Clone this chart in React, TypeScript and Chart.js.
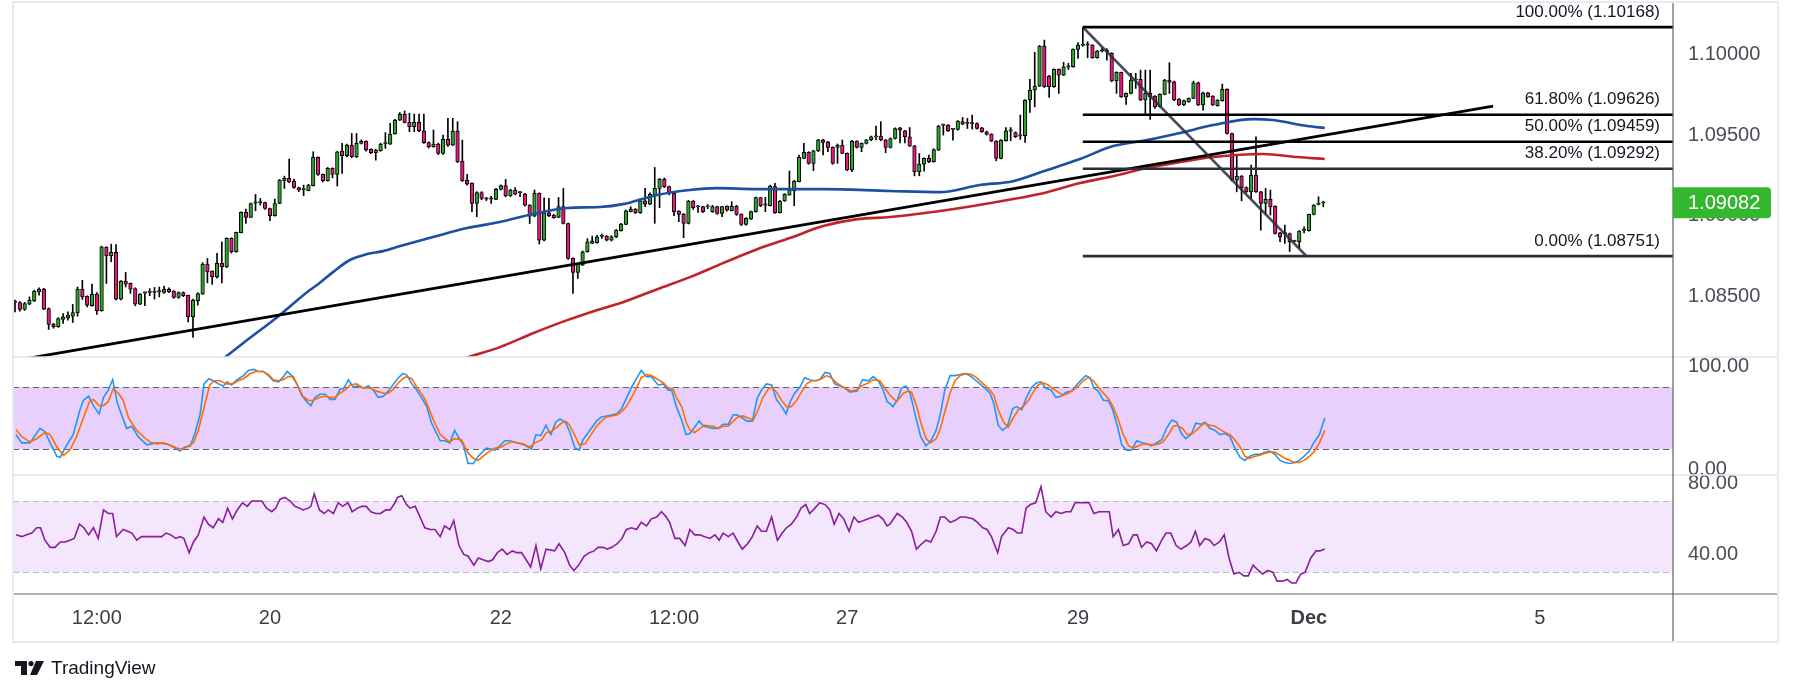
import React, { useEffect, useRef } from 'react';
import { Chart, registerables } from 'chart.js';

Chart.register(...registerables);

// ---------- DATA ----------
// Candle prices are given in pips above BASE (1.0800); one bar = one hour.
const BASE = 1.08;
const opens = [
  46.6, 46.4, 42.1, 45.4, 47.4, 53.0, 54.7, 42.7, 33.0, 31.4, 35.9, 36.9, 37.9, 40.0, 54.5, 50.3, 44.4, 51.6, 41.3, 80.5,
  75.3, 77.4, 48.5, 59.6, 58.2, 55.1, 45.4, 52.2, 52.6, 52.6, 53.0, 52.6, 54.5, 53.4, 49.5, 52.6, 50.8, 37.5, 47.5, 51.6,
  70.2, 65.8, 62.3, 70.6, 68.5, 86.1, 77.8, 89.6, 102.2, 99.1, 107.9, 108.1, 108.3, 104.6, 100.1, 107.7, 121.8, 123.2, 121.5, 117.6,
  116.2, 115.6, 118.7, 136.2, 125.7, 121.8, 129.4, 125.7, 140.1, 137.2, 143.8, 136.6, 144.9, 146.3, 141.2, 139.1, 140.3, 144.7, 144.4, 150.7,
  159.3, 162.8, 157.9, 155.2, 157.9, 152.7, 145.3, 142.8, 144.5, 138.7, 147.4, 143.8, 152.5, 133.9, 122.2, 120.1, 107.7, 114.5, 110.6, 110.4,
  110.2, 116.4, 118.7, 112.3, 116.0, 114.3, 113.5, 106.7, 99.9, 113.9, 85.0, 101.9, 100.5, 99.1, 105.7, 95.3, 73.7, 65.0, 69.5, 77.8,
  83.0, 83.4, 87.3, 87.5, 85.0, 87.1, 90.8, 94.7, 102.6, 104.2, 102.0, 109.4, 107.3, 112.9, 117.0, 122.8, 118.1, 113.9, 103.0, 101.1,
  95.4, 109.2, 105.5, 105.7, 105.5, 102.6, 105.7, 101.5, 106.1, 103.2, 106.1, 101.1, 94.7, 98.0, 102.6, 111.3, 106.7, 106.3, 118.1, 102.0,
  109.2, 112.9, 115.6, 121.2, 135.6, 139.3, 132.5, 140.2, 147.0, 145.9, 142.4, 142.4, 143.9, 138.7, 128.4, 146.3, 142.4, 144.9, 147.0, 148.8,
  149.4, 147.0, 142.4, 147.9, 154.5, 152.7, 149.0, 143.4, 127.3, 132.0, 135.6, 133.5, 140.7, 156.0, 156.2, 153.5, 153.5, 158.3, 157.2, 157.2,
  157.2, 154.5, 152.1, 150.6, 146.3, 135.6, 146.5, 152.5, 151.6, 149.4, 149.6, 171.7, 177.9, 180.3, 205.1, 186.5, 179.9, 190.7, 187.1, 192.1,
  192.3, 203.0, 205.5, 205.7, 205.7, 197.9, 202.0, 202.0, 200.6, 183.6, 188.8, 173.7, 175.8, 184.1, 184.5, 171.7, 175.8, 174.1, 167.5, 175.2,
  184.1, 183.0, 172.3, 168.6, 170.6, 172.7, 182.4, 168.6, 176.2, 174.1, 168.2, 171.3, 178.3, 151.0, 122.1, 124.6, 117.6, 114.9, 125.2, 114.9,
  107.7, 110.2, 106.0, 89.5, 88.9, 89.1, 84.2, 84.0, 91.0, 90.8, 100.9, 107.1, 108.0,
];
const highs = [
  47.9, 47.0, 46.5, 49.9, 54.0, 55.5, 55.2, 43.0, 33.5, 37.0, 39.5, 40.6, 45.2, 56.0, 60.2, 50.5, 57.8, 52.6, 81.3, 81.0,
  82.5, 82.3, 60.0, 65.0, 58.5, 55.5, 52.0, 53.0, 55.0, 55.7, 56.0, 56.5, 55.5, 53.8, 53.0, 53.0, 51.0, 48.5, 52.5, 71.0,
  73.7, 66.0, 76.8, 84.0, 86.5, 86.5, 90.0, 102.5, 104.2, 108.0, 113.3, 110.8, 108.5, 104.8, 110.4, 122.6, 124.6, 135.2, 122.8, 117.8,
  119.0, 119.5, 139.7, 136.5, 126.0, 130.0, 129.8, 140.0, 144.9, 144.5, 151.0, 151.0, 147.0, 146.5, 141.5, 141.3, 145.0, 151.5, 157.3, 159.7,
  163.9, 164.9, 163.5, 163.0, 163.0, 163.0, 145.8, 153.1, 145.0, 150.0, 160.4, 160.4, 158.3, 146.9, 125.7, 120.5, 115.0, 115.0, 111.5, 112.2,
  117.0, 119.2, 122.6, 116.5, 117.5, 115.0, 114.0, 107.0, 116.0, 114.3, 111.2, 110.8, 101.0, 111.4, 117.0, 95.5, 74.0, 70.5, 78.3, 86.0,
  87.5, 88.0, 88.7, 87.8, 87.8, 91.6, 95.4, 103.6, 105.7, 104.5, 110.8, 117.0, 114.3, 130.0, 123.2, 123.5, 118.5, 114.0, 103.2, 101.5,
  109.6, 109.5, 106.5, 106.0, 107.0, 106.5, 106.0, 106.0, 106.3, 108.8, 106.5, 101.2, 99.0, 103.0, 111.7, 111.5, 111.5, 119.0, 120.1, 109.6,
  113.7, 127.8, 122.0, 137.7, 144.9, 139.7, 140.6, 147.4, 147.4, 146.2, 142.8, 144.5, 147.0, 139.0, 146.7, 146.5, 145.2, 147.4, 149.4, 155.6,
  158.3, 147.3, 148.3, 154.5, 154.8, 153.0, 154.7, 143.6, 138.6, 136.0, 137.6, 141.5, 156.0, 156.8, 156.5, 154.2, 159.0, 160.9, 160.3, 162.4,
  157.6, 154.8, 152.5, 150.8, 146.6, 147.3, 154.7, 154.7, 152.0, 162.4, 172.0, 184.5, 201.2, 205.5, 208.8, 187.0, 191.0, 191.0, 195.0, 194.4,
  203.4, 207.2, 216.8, 207.8, 206.0, 202.4, 204.1, 203.5, 201.0, 189.2, 189.0, 176.2, 188.2, 188.2, 190.2, 190.2, 190.2, 174.5, 175.6, 184.5,
  194.8, 183.4, 172.6, 171.7, 173.0, 183.4, 182.8, 176.6, 176.5, 174.4, 172.0, 181.6, 178.7, 151.3, 138.2, 125.0, 118.0, 131.4, 149.0, 115.2,
  117.0, 116.0, 106.3, 89.8, 94.3, 89.4, 85.0, 90.9, 93.2, 101.2, 107.0, 111.8, 109.1,
];
const lows = [
  40.6, 41.0, 41.5, 45.0, 47.0, 51.0, 42.0, 29.7, 30.5, 31.0, 33.5, 35.5, 34.0, 38.0, 48.3, 43.7, 44.2, 39.0, 41.0, 58.2,
  71.6, 48.0, 48.0, 56.0, 52.0, 44.4, 45.0, 44.4, 50.6, 48.5, 49.9, 52.0, 52.5, 49.0, 49.0, 50.0, 34.4, 24.8, 44.8, 51.5,
  58.6, 57.6, 61.5, 58.6, 68.0, 77.0, 77.5, 89.5, 95.3, 99.0, 103.2, 106.7, 104.0, 97.0, 99.8, 107.5, 117.0, 120.5, 117.0, 115.0,
  112.5, 115.5, 118.5, 125.0, 121.0, 121.5, 123.5, 118.5, 126.3, 136.5, 136.0, 136.0, 144.5, 140.0, 138.5, 134.5, 140.0, 141.8, 144.2, 150.5,
  159.0, 157.5, 152.1, 152.1, 152.0, 144.8, 142.0, 142.5, 138.0, 138.0, 143.0, 143.5, 133.0, 121.3, 119.0, 102.6, 99.5, 110.0, 109.5, 107.7,
  110.0, 116.0, 111.8, 112.0, 113.0, 111.9, 106.0, 95.3, 99.5, 82.6, 84.5, 99.5, 98.5, 99.0, 95.0, 73.0, 52.0, 61.3, 69.3, 77.5,
  82.8, 83.2, 86.1, 84.5, 84.5, 86.5, 90.5, 94.5, 102.5, 101.5, 101.5, 105.7, 107.0, 95.4, 105.1, 117.5, 113.0, 100.1, 96.4, 86.5,
  95.0, 104.0, 102.2, 102.0, 104.5, 102.2, 101.0, 99.5, 103.0, 103.0, 100.3, 94.0, 94.2, 97.8, 102.3, 105.8, 102.6, 106.1, 101.5, 101.8,
  109.0, 112.8, 106.3, 121.0, 135.4, 132.0, 128.0, 139.8, 137.7, 139.7, 132.0, 132.5, 138.5, 128.0, 127.3, 142.0, 139.7, 144.5, 146.5, 147.0,
  146.5, 139.1, 142.0, 147.5, 145.2, 145.2, 143.0, 124.8, 124.8, 127.7, 133.0, 133.2, 140.5, 150.0, 152.3, 146.9, 153.0, 156.4, 154.1, 153.7,
  153.7, 151.7, 150.0, 146.0, 134.1, 135.3, 146.2, 146.5, 148.5, 147.3, 145.4, 164.0, 167.5, 180.0, 179.5, 173.3, 179.5, 175.8, 186.8, 190.6,
  192.0, 197.5, 205.0, 197.9, 197.5, 197.5, 201.5, 196.4, 183.0, 175.8, 173.3, 169.0, 175.5, 178.9, 171.3, 163.4, 159.7, 166.5, 167.2, 174.9,
  175.8, 171.3, 168.2, 168.2, 170.3, 172.5, 168.2, 165.5, 173.3, 168.2, 167.9, 171.0, 150.6, 121.7, 114.9, 109.3, 114.5, 110.8, 114.5, 91.2,
  101.5, 100.5, 88.7, 84.0, 82.9, 78.0, 83.8, 80.4, 89.5, 90.5, 100.6, 106.8, 105.6,
];
const closes = [
  46.4, 42.1, 45.8, 47.9, 53.4, 54.7, 42.3, 32.8, 31.4, 36.5, 37.5, 38.6, 40.2, 54.5, 49.9, 44.8, 51.4, 41.3, 80.9, 75.3,
  77.4, 48.5, 59.6, 57.8, 54.7, 45.4, 51.6, 52.6, 52.6, 53.0, 53.0, 54.5, 53.0, 49.5, 52.6, 50.6, 37.5, 47.9, 52.0, 70.2,
  65.4, 62.3, 70.6, 68.5, 86.1, 77.8, 89.8, 102.2, 99.1, 107.7, 108.1, 108.3, 104.6, 100.1, 107.7, 122.2, 123.2, 121.1, 117.6, 116.0,
  116.4, 119.1, 136.2, 125.7, 121.8, 129.4, 125.7, 139.7, 137.2, 143.8, 136.6, 144.9, 146.3, 140.8, 139.1, 140.8, 144.4, 144.9, 150.7, 159.3,
  162.8, 157.9, 155.2, 157.9, 152.7, 145.3, 142.8, 144.5, 138.7, 147.4, 143.8, 152.5, 133.5, 121.8, 119.7, 107.7, 114.5, 110.8, 110.4, 110.4,
  116.4, 118.7, 112.3, 116.0, 113.5, 114.3, 106.7, 99.9, 113.9, 85.0, 101.9, 100.1, 98.9, 105.7, 95.3, 73.7, 65.0, 70.2, 77.8, 84.0,
  84.6, 87.1, 87.5, 85.0, 87.1, 91.2, 95.0, 103.2, 104.2, 102.0, 109.4, 107.3, 113.3, 117.0, 122.8, 118.1, 113.9, 102.6, 100.9, 95.4,
  109.2, 105.1, 105.7, 102.6, 105.7, 105.7, 101.5, 105.7, 103.6, 106.1, 100.9, 94.7, 98.5, 102.6, 111.3, 106.3, 107.1, 118.5, 102.0, 109.2,
  113.3, 116.0, 121.6, 136.2, 139.3, 132.5, 140.2, 147.0, 145.5, 142.4, 132.5, 143.9, 138.7, 128.4, 146.3, 142.4, 144.9, 147.0, 149.0, 149.0,
  147.0, 142.4, 147.9, 154.1, 153.1, 149.0, 143.2, 127.3, 132.0, 135.6, 133.5, 141.1, 155.6, 156.2, 152.7, 153.7, 158.7, 156.8, 157.2, 157.0,
  154.1, 152.1, 150.4, 146.3, 135.6, 146.9, 152.7, 152.7, 149.0, 149.6, 171.7, 177.9, 180.3, 205.1, 179.9, 179.9, 190.7, 187.1, 192.3, 192.3,
  203.0, 205.7, 205.7, 205.7, 197.9, 202.0, 202.0, 201.6, 183.6, 188.8, 173.7, 175.8, 184.1, 184.1, 171.7, 175.8, 173.7, 167.5, 175.2, 184.1,
  182.6, 171.7, 168.6, 171.3, 172.7, 182.4, 168.6, 176.2, 173.7, 168.6, 171.7, 178.3, 151.0, 122.1, 124.6, 117.4, 114.9, 125.2, 114.9, 107.7,
  110.2, 105.6, 89.1, 87.0, 89.1, 84.0, 84.4, 90.6, 91.2, 100.9, 106.7, 107.1, 108.2,
];

// Moving averages, [bar index, pips above BASE]
const emaBlue: [number, number][] = [
  [39.5, 2.7], [47.4, 21.2], [54.5, 37.3], [61.3, 54.1], [62.8, 57.2], [66.1, 65.2], [69.6, 72.7], [73.2, 76.4], [76.5, 78.2],
  [80.1, 81.3], [86.9, 86.9], [94.0, 92.5], [100.8, 96.2], [107.7, 101.2], [114.8, 104.9], [121.6, 105.5], [126.4, 107.3],
  [133.5, 112.9], [140.3, 116.0], [145.9, 117.2], [154.3, 116.6], [168.0, 116.6], [181.9, 115.4], [192.3, 114.7], [200.6, 119.1],
  [207.5, 121.5], [214.6, 128.4], [221.4, 135.2], [228.3, 143.2], [235.3, 146.9], [242.2, 151.3], [249.1, 156.2], [257.4, 159.9],
  [261.5, 159.3], [268.6, 155.6], [272.3, 154.4],
];
const emaRed: [number, number][] = [
  [91.5, 9.6], [94.2, 12.6], [100.8, 18.8], [107.7, 27.4], [114.8, 35.5], [121.6, 42.3], [126.4, 46.6], [133.5, 54.6],
  [140.3, 62.1], [147.2, 70.8], [154.3, 79.4], [161.1, 86.3], [168.0, 93.7], [175.1, 98.0], [181.9, 99.3], [193.8, 103.6],
  [207.5, 110.4], [214.6, 114.7], [221.4, 120.3], [228.3, 124.6], [235.3, 129.6], [242.2, 133.3], [249.1, 136.4],
  [259.5, 138.3], [266.5, 136.4], [272.3, 135.2],
];
const trendline: [number, number][] = [[0, 10.5], [307.3, 168.0]];

// Fibonacci retracement drawing
const fibStartBar = 222;
const fibPercents = ['100.00%', '61.80%', '50.00%', '38.20%', '0.00%'];
const fibPrices = [1.10168, 1.09626, 1.09459, 1.09292, 1.08751];
const fibColors = ['#000000', '#000000', '#000000', '#2a2e39', '#2a2e39'];
const fibDiagonal: [number, number][] = [[222, 1.10168], [268.5, 1.08751]];

// Stochastic (%K, %D) and RSI, [bar index, value]
const stochK: [number, number][] = [
  [0.2,34],[1.4,26],[3.1,26],[5.2,40],[6.2,37],[7.3,26],[8.7,13],[9.4,12],[10.4,21],[12.1,34],[13.5,58],[14.2,67],[15.3,71],[16.3,62],[17.5,54],[18.4,70],[19.4,77],[20.3,87],[21.3,64],[23.2,40],[24.3,42],[25.6,32],[27.4,24],[28.4,25],[29.5,26],[31.5,25],[32.9,22],[34.3,18],[35.3,22],[36.4,23],[37.4,35],[38.5,54],[39.3,83],[40.3,88],[41.2,86],[42.3,83],[43.3,81],[44.1,85],[45.0,82],[46.2,87],[47.5,91],[48.5,96],[49.6,97],[50.6,95],[51.6,95],[52.7,91],[53.7,86],[54.8,85],[55.8,90],[56.6,95],[57.5,91],[58.6,83],[59.6,72],[60.6,66],[61.5,62],[62.4,70],[63.4,73],[64.5,73],[65.5,68],[66.5,68],[67.6,78],[68.3,78],[69.3,87],[70.3,80],[71.4,81],[72.4,79],[73.5,81],[74.5,77],[75.5,70],[76.6,71],[77.6,76],[78.7,83],[79.7,89],[80.6,93],[81.4,92],[82.5,83],[83.5,77],[84.6,69],[85.6,61],[86.6,45],[88.4,28],[89.4,28],
  [90.4,26],[91.4,38],[92.5,29],[93.2,24],[94.2,6],[95.3,6],[96.3,13],[98.0,21],[99.8,19],[100.8,23],[101.8,28],[102.9,28],[104.3,26],[105.3,25],[106.3,23],[107.4,20],[108.3,34],[109.3,33],[110.4,43],[111.4,34],[112.4,46],[113.3,49],[114.4,46],[115.3,37],[116.4,21],[117.3,19],[118.1,29],[119.5,38],[120.9,47],[121.9,51],[123.0,52],[124.0,53],[125.1,54],[126.1,59],[127.1,69],[128.2,80],[129.2,88],[130.2,96],[131.3,90],[132.3,90],[133.7,82],[134.8,83],[135.8,77],[136.5,77],[137.5,61],[138.6,48],[139.5,34],[140.3,35],[141.3,41],[142.2,47],[143.2,42],[144.1,41],[145.1,40],[146.2,40],[147.2,44],[148.3,44],[149.3,53],[150.1,53],[151.2,50],[152.2,47],[153.3,47],[154.3,69],[155.2,77],[156.2,83],[157.3,82],[158.3,68],[159.4,61],[160.3,54],[161.2,66],[162.1,74],[163.2,80],[164.2,89],[165.2,87],[166.3,86],[167.3,87],[168.4,94],[169.4,93],[170.4,83],[171.5,81],[172.5,79],[173.6,75],[175.1,76],[176.2,87],[177.4,86],[178.4,90],[179.5,86],[180.5,77],[181.3,66],
  [181.9,64],[182.5,61],[183.4,67],[184.3,79],[185.2,81],[186.1,74],[187.1,54],[188.3,32],[189.4,23],[190.4,28],[191.5,38],[192.4,54],[193.3,77],[194.4,91],[195.4,91],[196.5,92],[197.5,93],[198.5,91],[199.6,87],[200.6,83],[201.6,79],[202.7,74],[203.5,64],[204.4,43],[205.3,38],[206.3,42],[207.4,59],[208.2,61],[209.3,58],[210.3,70],[211.4,80],[212.4,84],[213.3,85],[214.3,79],[215.4,77],[216.4,70],[217.5,71],[218.5,75],[219.7,76],[220.7,82],[221.7,87],[222.6,91],[223.5,89],[224.3,79],[225.2,76],[226.3,67],[227.3,67],[228.2,58],[229.2,42],[230.1,24],[231.1,19],[232.1,19],[233.2,28],[234.2,26],[235.3,25],[236.3,23],[237.3,26],[238.4,29],[239.4,40],[240.5,48],[241.5,46],[242.5,35],[243.4,30],[244.5,34],[245.5,45],[246.6,44],[247.4,46],[248.4,40],[249.5,38],[250.5,34],[251.6,35],[252.6,32],[253.6,21],[254.7,12],[255.7,9],[256.7,13],[257.8,15],[258.8,15],[259.9,17],[260.9,18],[261.9,15],[263.0,9],[264.0,7],[265.1,6],[266.1,7],[267.0,9],[268.0,13],[269.1,18],[270.0,26],[271.2,34],[272.3,50],
];
const stochD: [number, number][] = [
  [0.2,39],[1.4,32],[3.1,27],[4.5,30],[6.2,36],[7.3,34],[8.7,22],[10.1,14],[11.4,19],[12.8,32],[14.2,50],[15.5,66],[16.3,68],[17.5,62],[18.4,62],[19.4,66],[20.4,78],[21.5,74],[22.5,67],[23.6,50],[25.3,38],[27.4,29],[28.4,26],[29.5,25],[30.8,26],[32.2,24],[33.6,21],[34.7,20],[35.7,22],[37.1,26],[38.1,38],[39.5,64],[40.5,82],[41.4,86],[42.6,86],[44.0,83],[45.3,83],[46.4,86],[47.5,88],[48.9,93],[50.2,95],[51.6,95],[52.7,92],[53.7,87],[54.8,86],[55.8,87],[56.8,90],[57.9,90],[58.9,80],[59.9,71],[61.0,67],[62.0,67],[63.4,70],[64.5,71],[65.5,70],[66.5,70],[67.6,74],[68.6,77],[69.7,82],[71.0,83],[72.4,79],[73.8,79],[75.2,76],[76.6,74],[77.6,74],[78.7,78],[79.7,84],[80.6,88],[81.4,90],[82.5,88],[83.5,80],[84.9,71],[85.9,61],[87.0,48],[88.4,34],[89.4,30],
  [90.4,27],[91.4,30],[92.8,29],[94.2,16],[95.3,11],[96.3,9],[97.3,13],[98.4,17],[99.8,21],[101.1,22],[102.2,25],[103.2,27],[104.3,26],[105.6,25],[107.0,22],[108.1,26],[109.5,29],[110.5,36],[111.5,37],[112.6,41],[113.6,45],[114.5,47],[115.3,43],[116.4,33],[117.3,24],[118.5,25],[119.5,32],[120.9,42],[121.9,47],[123.0,51],[124.0,52],[125.1,53],[126.1,56],[127.1,61],[128.2,70],[129.2,79],[130.2,89],[131.3,92],[132.3,91],[133.4,88],[134.8,84],[135.8,79],[136.8,78],[137.5,70],[138.6,61],[139.6,45],[140.4,38],[141.3,36],[142.4,40],[143.4,43],[145.1,42],[146.2,40],[147.2,42],[148.3,42],[149.3,47],[150.3,51],[151.4,52],[152.4,50],[153.5,48],[154.5,58],[155.5,70],[156.6,78],[157.3,80],[158.3,75],[159.4,67],[160.4,61],[161.4,61],[162.5,67],[163.5,75],[164.6,83],[165.6,86],[166.6,86],[167.7,88],[168.7,91],[169.7,89],[170.8,84],[171.8,81],[172.9,78],[173.9,76],[174.9,77],[176.0,81],[177.4,84],[178.4,87],[179.8,86],[180.8,79],
  [181.9,72],[183.3,66],[184.7,74],[185.7,76],[186.4,75],[187.4,62],[188.3,46],[189.4,30],[190.4,26],[191.5,30],[192.4,40],[193.3,56],[194.4,74],[195.4,86],[196.5,91],[197.8,93],[198.9,92],[199.9,89],[201.3,83],[202.7,77],[203.5,72],[204.4,58],[205.5,46],[206.5,41],[207.5,50],[208.6,58],[209.6,61],[210.7,67],[211.7,75],[212.7,82],[213.8,84],[214.8,82],[215.9,78],[216.9,75],[217.9,72],[219.0,74],[220.0,77],[221.1,81],[222.1,86],[223.1,89],[224.2,86],[225.2,80],[226.3,74],[227.3,69],[228.3,61],[229.4,48],[230.4,34],[231.5,23],[232.5,21],[233.5,23],[234.6,25],[236.6,24],[237.7,25],[238.7,27],[239.8,34],[240.8,42],[241.6,43],[242.7,40],[243.7,34],[244.8,35],[245.8,39],[246.7,43],[247.4,45],[248.4,43],[249.5,42],[250.5,39],[251.6,36],[252.6,34],[253.6,29],[254.7,22],[255.7,13],[256.7,11],[257.8,13],[258.8,14],[259.9,16],[260.9,17],[261.9,17],[263.0,14],[264.0,11],[265.1,9],[266.1,7],[267.0,7],[268.0,9],[269.1,13],[270.0,17],[271.2,26],[272.3,38],
];
const rsi: [number, number][] = [
  [0.2,51],[1.4,50],[2.4,51],[3.5,52],[4.5,55],[5.3,55],[6.2,48],[7.3,44],[8.3,44],[9.4,47],[10.4,47],[11.4,48],[12.3,49],[13.4,57],[14.3,55],[15.3,51],[16.3,55],[17.3,49],[18.4,65],[19.4,63],[20.3,63],[21.1,50],[22.5,54],[23.4,53],[24.3,52],[25.3,48],[26.3,50],[27.4,50],[29.5,50],[30.5,50],[31.4,52],[32.4,51],[33.4,49],[34.3,50],[35.1,49],[36.2,41],[37.1,47],[38.1,51],[39.3,61],[40.2,57],[41.2,55],[42.3,60],[43.2,58],[44.2,66],[45.2,60],[46.2,65],[47.3,69],[48.3,67],[49.2,70],[51.3,70],[52.3,66],[53.4,64],[54.2,66],[55.1,71],[56.1,72],[57.2,70],[58.2,67],[59.1,66],[59.9,65],[61.0,66],[61.5,67],[62.2,74],[63.3,65],[64.3,63],[65.1,65],[66.2,63],[67.2,69],[68.1,67],[69.2,69],[70.1,64],[71.2,66],[72.1,67],[73.0,67],[74.0,64],[75.0,63],[76.0,63],[77.1,65],[78.0,65],[79.0,69],[79.5,72],[80.4,73],[81.4,68],[82.1,66],[83.2,67],[84.2,61],[85.2,55],[86.3,54],[87.3,54],[88.4,50],[89.3,56],
  [90.4,54],[91.2,59],[92.3,45],[93.3,40],[94.2,39],[95.4,34],[96.3,38],[97.3,37],[98.4,36],[99.3,37],[100.3,41],[101.3,43],[102.3,40],[103.4,42],[104.3,41],[105.3,41],[107.2,33],[108.3,45],[109.3,32],[110.4,43],[112.2,42],[113.1,46],[114.3,41],[115.3,34],[116.2,31],[117.2,34],[118.3,39],[119.4,41],[120.4,42],[121.2,44],[122.3,44],[123.1,43],[124.1,44],[125.2,46],[126.2,49],[127.1,54],[128.2,55],[129.2,54],[130.2,58],[131.3,56],[132.3,60],[133.4,61],[134.4,64],[135.4,61],[136.1,58],[137.2,49],[138.2,49],[139.3,45],[140.3,54],[141.3,51],[142.4,51],[143.4,50],[144.5,49],[145.5,51],[146.4,48],[147.2,52],[148.3,50],[149.3,52],[150.3,47],[151.2,43],[152.3,46],[153.3,50],[154.3,56],[155.2,53],[156.2,53],[157.3,61],[158.5,48],[159.5,52],[160.4,55],[161.4,57],[162.5,61],[163.4,66],[164.4,68],[165.2,63],[166.3,66],[167.3,69],[168.4,68],[169.4,65],[170.3,57],[171.3,63],[172.3,60],[173.4,53],[174.4,61],[175.4,58],[177.4,60],[179.5,62],[180.4,60],[181.3,56],
  [181.9,57],[183.4,63],[184.5,61],[185.4,58],[186.4,53],[187.4,43],[188.5,46],[189.4,48],[190.4,47],[191.5,53],[192.4,61],[193.3,61],[194.4,58],[195.4,59],[196.5,61],[197.5,61],[199.1,60],[200.1,58],[201.2,55],[202.1,54],[203.0,50],[204.3,41],[205.1,50],[206.5,55],[207.5,54],[208.4,52],[209.3,52],[210.2,66],[211.1,68],[212.2,69],[213.3,78],[214.3,64],[215.4,61],[216.4,64],[217.5,63],[218.5,64],[219.5,64],[220.4,69],[221.4,69],[223.3,69],[224.3,63],[225.4,64],[226.5,64],[227.5,64],[228.3,50],[229.4,54],[230.4,45],[231.5,46],[232.5,51],[233.3,51],[234.2,44],[235.3,47],[236.3,46],[237.3,42],[238.4,48],[239.3,52],[240.3,52],[241.4,45],[242.4,43],[243.6,45],[244.5,47],[245.4,53],[246.3,45],[247.4,49],[248.4,48],[249.3,45],[250.4,47],[251.4,51],[252.4,38],[253.4,29],[254.5,30],[255.5,28],[256.4,28],[257.4,34],[258.5,31],[259.4,29],[260.4,31],[261.5,30],[262.4,25],[263.5,25],[264.5,26],[265.4,24],[266.3,24],[267.3,29],[268.2,30],[269.4,38],[270.5,42],[271.3,42],[272.3,43],
];

// Axes
const timeTickBars = [17, 53, 101, 137, 173, 221, 269, 317];
const timeTickLabels = ['12:00', '20', '22', '12:00', '27', '29', 'Dec', '5'];
const priceTicks = [1.085, 1.09, 1.095, 1.1];
const stochTicks = [0, 100];
const rsiTicks = [40, 80];
const lastPrice = 1.09082;

// ---------- STYLE ----------
const FONT = "'Liberation Sans', Arial, sans-serif";
const AXIS_TEXT = '#4a4c55';
const UP = '#2ba52b';
const DOWN = '#e8177c';
const BLUE = '#1c4fa3';
const RED = '#c0242b';

const toPrice = (p: number) => BASE + p / 10000;

const noPad = (s: any) => {
  s.paddingTop = 0;
  s.paddingBottom = 0;
  s.paddingLeft = 0;
  s.paddingRight = 0;
};

export default function App() {
  const ref = useRef<HTMLCanvasElement | null>(null);

  useEffect(() => {
    if (!ref.current) return;
    const bars = closes.map((_, i) => i);
    const xMin = -0.42;
    const xMax = 344.7;

    const panes = {
      id: 'panes',
      beforeDatasetsDraw(chart: any) {
        const { ctx, chartArea, scales } = chart;
        const l = chartArea.left;
        const r = chartArea.right;
        const yS = scales.yS;
        const yR = scales.yR;
        ctx.save();
        const s80 = yS.getPixelForValue(80);
        const s20 = yS.getPixelForValue(20);
        ctx.fillStyle = '#e9d0fc';
        ctx.fillRect(l, s80, r - l, s20 - s80);
        const r70 = yR.getPixelForValue(70);
        const r30 = yR.getPixelForValue(30);
        ctx.fillStyle = '#f4e6fd';
        ctx.fillRect(l, r70, r - l, r30 - r70);
        ctx.lineWidth = 1;
        ctx.setLineDash([6, 4]);
        ctx.strokeStyle = '#5d606b';
        [s80, s20].forEach((y) => {
          ctx.beginPath();
          ctx.moveTo(l, Math.round(y) + 0.5);
          ctx.lineTo(r, Math.round(y) + 0.5);
          ctx.stroke();
        });
        ctx.strokeStyle = '#b8bac2';
        [r70, r30].forEach((y) => {
          ctx.beginPath();
          ctx.moveTo(l, Math.round(y) + 0.5);
          ctx.lineTo(r, Math.round(y) + 0.5);
          ctx.stroke();
        });
        ctx.restore();
      },
      afterDatasetsDraw(chart: any) {
        const { ctx, chartArea, scales } = chart;
        const yP = scales.yP;
        ctx.save();
        ctx.font = `17px ${FONT}`;
        ctx.fillStyle = '#131722';
        ctx.textAlign = 'right';
        ctx.textBaseline = 'middle';
        fibPrices.forEach((p, i) => {
          const y = yP.getPixelForValue(p);
          ctx.fillText(`${fibPercents[i]} (${p.toFixed(5)})`, chartArea.right - 13, y - 15);
        });
        ctx.restore();
      },
      afterDraw(chart: any) {
        const { ctx, chartArea, scales } = chart;
        const yP = scales.yP;
        const yS = scales.yS;
        const outerRight = chartArea.right + 105;
        const outerBottom = chartArea.bottom + 48;
        ctx.save();
        // pane separators
        ctx.strokeStyle = '#e0e3eb';
        ctx.lineWidth = 1.5;
        [yP.bottom, yS.bottom].forEach((y: number) => {
          ctx.beginPath();
          ctx.moveTo(chartArea.left, y);
          ctx.lineTo(outerRight, y);
          ctx.stroke();
        });
        // axis borders
        ctx.strokeStyle = '#5f6368';
        ctx.lineWidth = 1.2;
        ctx.beginPath();
        ctx.moveTo(chartArea.left, chartArea.bottom);
        ctx.lineTo(outerRight, chartArea.bottom);
        ctx.moveTo(chartArea.right, chartArea.top);
        ctx.lineTo(chartArea.right, outerBottom);
        ctx.stroke();
        // outer frame
        ctx.strokeStyle = '#e9eaef';
        ctx.lineWidth = 2;
        ctx.strokeRect(chartArea.left, chartArea.top, outerRight - chartArea.left, outerBottom - chartArea.top);
        // last price label
        const yl = yP.getPixelForValue(lastPrice);
        const bx = chartArea.right;
        const bw = 98;
        const bh = 31;
        ctx.fillStyle = '#33b72f';
        ctx.beginPath();
        (ctx as any).roundRect(bx, yl - bh / 2, bw, bh, [0, 4, 4, 0]);
        ctx.fill();
        ctx.fillStyle = '#ffffff';
        ctx.font = `20px ${FONT}`;
        ctx.textAlign = 'left';
        ctx.textBaseline = 'middle';
        ctx.fillText(lastPrice.toFixed(5), bx + 15, yl + 1);
        ctx.restore();
      },
    };

    const lineDs = (data: [number, number][], color: string, width: number, yAxisID: string, order: number, conv = true, extra: any = {}) => ({
      type: 'line' as const,
      data: data.map(([x, y]) => ({ x, y: conv ? toPrice(y) : y })),
      borderColor: color,
      borderWidth: width,
      pointRadius: 0,
      tension: 0,
      yAxisID,
      order,
      ...extra,
    });

    const fibDs = fibPrices.map((p, i) =>
      lineDs([[fibStartBar, p], [xMax, p]], fibColors[i], 2.6, 'yP', 0, false)
    );

    const yAxis = (weight: number, min: number, max: number, ticks: number[], digits: number) => ({
      type: 'linear',
      position: 'right',
      stack: 'panes',
      stackWeight: weight,
      min,
      max,
      grid: { display: false, drawTicks: false },
      border: { display: false },
      afterBuildTicks: (s: any) => {
        s.ticks = ticks.map((v) => ({ value: v }));
      },
      afterFit: (s: any) => {
        s.width = 105;
        noPad(s);
      },
      ticks: {
        padding: 15,
        color: AXIS_TEXT,
        font: { size: 20, family: FONT },
        callback: (v: any) => Number(v).toFixed(digits),
      },
    });

    const chart = new Chart(ref.current, {
      type: 'bar',
      data: {
        datasets: [
          ...fibDs,
          lineDs(fibDiagonal, 'rgba(42,46,57,0.85)', 2.8, 'yP', 0, false),
          lineDs(trendline, '#000000', 2.8, 'yP', 1),
          lineDs(emaBlue, BLUE, 2.6, 'yP', 2, true, { cubicInterpolationMode: 'monotone' }),
          lineDs(emaRed, RED, 2.6, 'yP', 2, true, { cubicInterpolationMode: 'monotone' }),
          {
            type: 'bar',
            data: bars.map((i) => ({ x: i, y: [toPrice(opens[i]), toPrice(closes[i])] })),
            backgroundColor: bars.map((i) => (closes[i] >= opens[i] ? UP : DOWN)),
            borderColor: '#000000',
            borderWidth: 1,
            borderSkipped: false,
            barThickness: 3.6,
            minBarLength: 1.2,
            grouped: false,
            yAxisID: 'yP',
            order: 3,
          } as any,
          {
            type: 'bar',
            data: bars.map((i) => ({ x: i, y: [toPrice(lows[i]), toPrice(highs[i])] })),
            backgroundColor: '#000000',
            borderWidth: 0,
            barThickness: 1,
            grouped: false,
            yAxisID: 'yP',
            order: 4,
          } as any,
          lineDs(stochK, '#2196f3', 1.6, 'yS', 1, false),
          lineDs(stochD, '#ff6d00', 1.6, 'yS', 0, false),
          lineDs(rsi, '#8a1d9c', 1.6, 'yR', 0, false),
        ],
      },
      options: {
        animation: false,
        responsive: false,
        devicePixelRatio: 1,
        layout: { padding: { left: 13, top: 2, right: 15, bottom: 53 } },
        plugins: { legend: { display: false }, tooltip: { enabled: false } },
        scales: {
          x: {
            type: 'linear',
            position: 'bottom',
            offset: false,
            min: xMin,
            max: xMax,
            grid: { display: false, drawTicks: false, offset: false },
            border: { display: false },
            afterBuildTicks: (s: any) => {
              s.ticks = timeTickBars.map((v) => ({ value: v }));
            },
            afterFit: (s: any) => {
              s.height = 48;
              noPad(s);
            },
            ticks: {
              autoSkip: false,
              maxRotation: 0,
              padding: 12,
              color: '#3d3f47',
              font: (c: any) => ({
                size: 20,
                family: FONT,
                weight: c.tick && c.tick.value === 269 ? 'bold' : 'normal',
              }),
              callback: (v: any) => {
                const k = timeTickBars.indexOf(Number(v));
                return k >= 0 ? timeTickLabels[k] : '';
              },
            },
          },
          yP: yAxis(355, 1.081269, 1.103236, priceTicks, 5),
          yS: yAxis(118, -5.1, 109, stochTicks, 2),
          yR: yAxis(119, 17.8, 84.6, rsiTicks, 2),
        },
      } as any,
      plugins: [panes],
    });
    return () => chart.destroy();
  }, []);

  return (
    <div style={{ position: 'fixed', left: 0, top: 0, width: 1793, height: 695, background: '#ffffff', overflow: 'hidden' }}>
      <canvas ref={ref} width={1793} height={695} style={{ position: 'absolute', left: 0, top: 0, width: 1793, height: 695 }} />
      <div style={{ position: 'absolute', left: 15, top: 655, height: 26, display: 'flex', alignItems: 'center', gap: 7, fontFamily: FONT, fontSize: 19, color: '#131722' }}>
        <svg width="29" height="14" viewBox="0 0 29 14">
          <path d="M0 0 H12 V14 H6 V5 H0 Z" fill="#131722" />
          <circle cx="16" cy="2.6" r="2.6" fill="#131722" />
          <path d="M21 0 H29 L22 14 H15 Z" fill="#131722" />
        </svg>
        <span>TradingView</span>
      </div>
    </div>
  );
}
